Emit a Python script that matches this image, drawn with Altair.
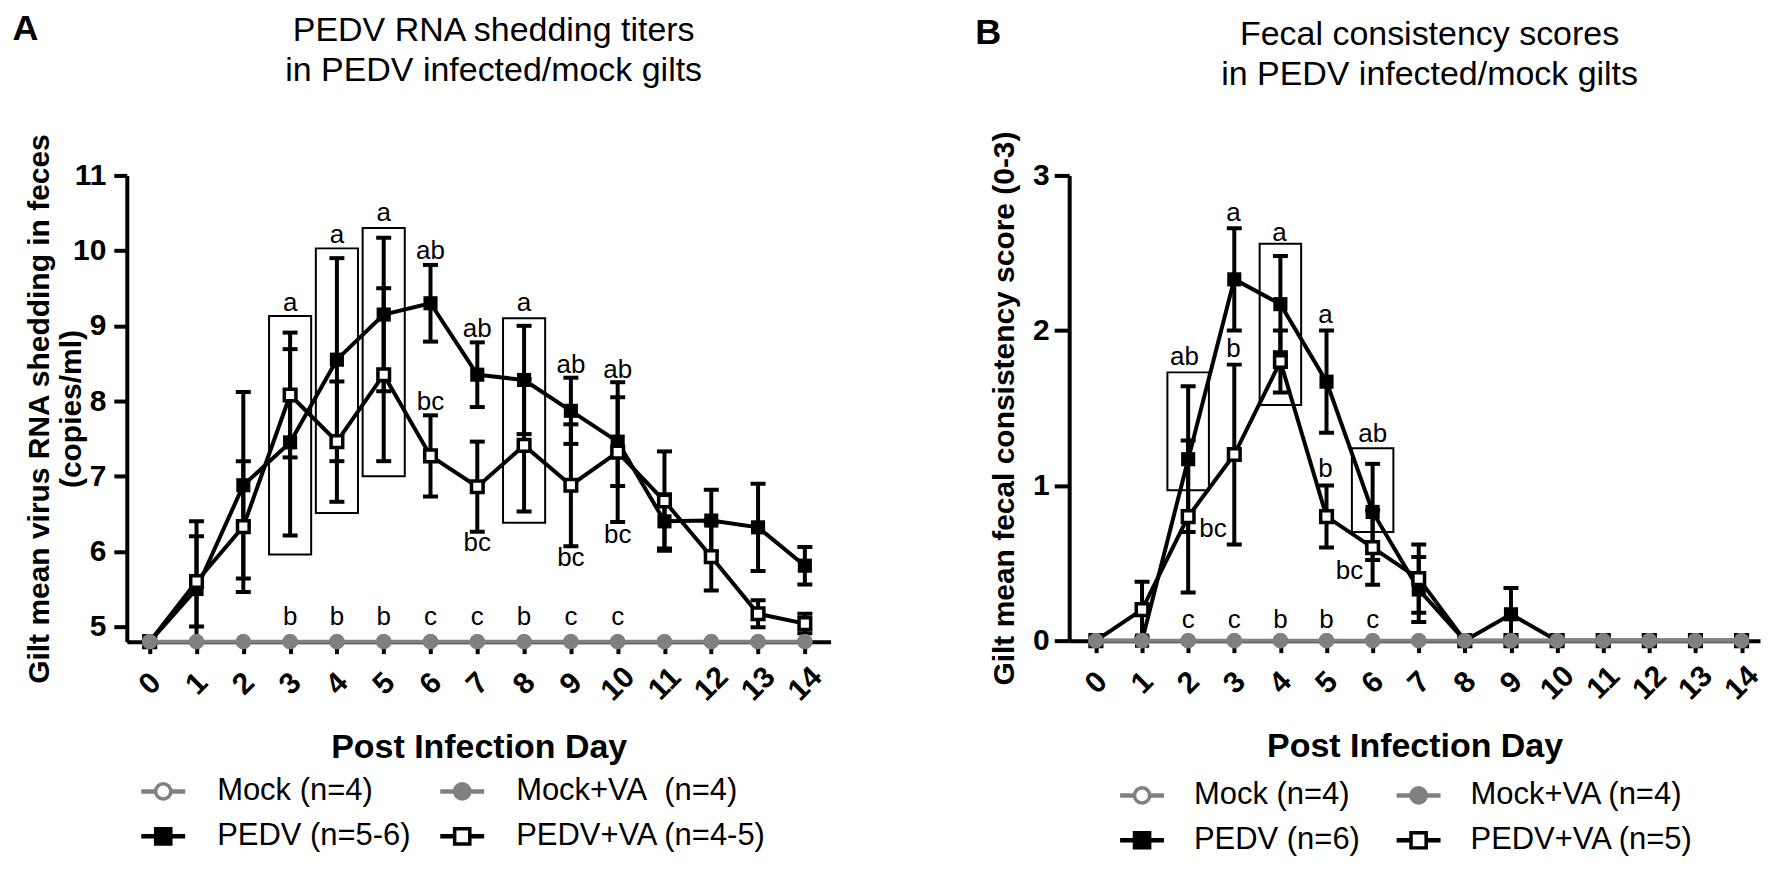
import altair as alt
import pandas as pd

FONT = "Liberation Sans"
GREY = "#808080"

days = list(range(15))

# ---------------- Panel A : RNA shedding ----------------
a_pedv = [4.8, 5.5, 6.88, 7.45, 8.55, 9.15, 9.3, 8.35, 8.28, 7.87, 7.46, 6.4, 6.41, 6.32, 5.81]
a_pedv_err = [0, 0.9, 1.24, 1.24, 1.35, 1.02, 0.51, 0.43, 0.72, 0.44, 0.59, 0.36, 0.41, 0.58, 0.25]
a_va = [4.8, 5.6, 6.33, 8.08, 7.46, 8.35, 7.27, 6.86, 7.41, 6.88, 7.32, 6.67, 5.93, 5.17, 5.04]
a_va_err = [0, 0.6, 0.87, 0.83, 0.8, 1.15, 0.54, 0.6, 0.88, 0.81, 0.93, 0.66, 0.45, 0.18, 0.13]
a_mock = [4.8] * 15
a_box_days = [3, 4, 5, 8]
a_box_lo = [5.96, 6.51, 7.0, 6.38]
a_box_hi = [9.13, 10.03, 10.3, 9.1]
a_let_days = [3, 4, 5, 6, 7, 8, 9, 10, 6, 7, 9, 10, 3, 4, 5, 6, 7, 8, 9, 10]
a_let_y = [9.3, 10.21, 10.5, 10.0, 8.96, 9.3, 8.48, 8.41, 7.99, 6.11, 5.91, 6.22,
           5.13, 5.13, 5.13, 5.13, 5.13, 5.13, 5.13, 5.13]
a_let_txt = ["a", "a", "a", "ab", "ab", "a", "ab", "ab", "bc", "bc", "bc", "bc",
             "b", "b", "b", "c", "c", "b", "c", "c"]
a_title = ["PEDV RNA shedding titers", "in PEDV infected/mock gilts"]
a_ytitle = ["Gilt mean virus RNA shedding in feces", "(copies/ml)"]
a_legend = ["Mock (n=4)", "Mock+VA\u00a0 (n=4)", "PEDV (n=5-6)", "PEDV+VA (n=4-5)"]

# ---------------- Panel B : fecal consistency ----------------
b_pedv = [0, 0, 1.17, 2.33, 2.17, 1.67, 0.83, 0.33, 0, 0.17, 0, 0, 0, 0, 0]
b_pedv_err = [0, 0, 0.47, 0.33, 0.31, 0.33, 0.31, 0.21, 0, 0.17, 0, 0, 0, 0, 0]
b_va = [0, 0.2, 0.8, 1.2, 1.8, 0.8, 0.6, 0.4, 0, 0, 0, 0, 0, 0, 0]
b_va_err = [0, 0.18, 0.49, 0.58, 0.2, 0.2, 0.24, 0.22, 0, 0, 0, 0, 0, 0, 0]
b_mock = [0] * 15
b_box_days = [2, 4, 6]
b_box_lo = [0.97, 1.52, 0.7]
b_box_hi = [1.73, 2.56, 1.24]
b_let_days = [1.92, 2.54, 2.98, 2.98, 3.98, 4.98, 4.98, 6.0, 5.5, 2, 3, 4, 5, 6]
b_let_y = [1.83, 0.72, 2.76, 1.88, 2.63, 2.1, 1.11, 1.33, 0.45, 0.13, 0.13, 0.13, 0.13, 0.13]
b_let_txt = ["ab", "bc", "a", "b", "a", "a", "b", "ab", "bc", "c", "c", "b", "b", "c"]
b_title = ["Fecal consistency scores", "in PEDV infected/mock gilts"]
b_ytitle = "Gilt mean fecal consistency score (0-3)"
b_legend = ["Mock (n=4)", "Mock+VA (n=4)", "PEDV (n=6)", "PEDV+VA (n=5)"]

series = ["Mock", "Mock+VA", "PEDV", "PEDV+VA"]
leg_col = [0, 1, 0, 1]
leg_row = [0, 0, 1, 1]


def panel(letter, letter_xy, title, title_y, ytitle, ydom, yticks, xdom, width, height,
          pedv, pedv_err, va, va_err, mock, box_days, box_lo, box_hi,
          let_days, let_y, let_txt, legend_labels, leg_xrange, leg_yrange, leg_dx,
          ytick_size, ylabel_pad, ytitle_pad):
    xs = alt.Scale(domain=xdom, nice=False, zero=False)
    ys = alt.Scale(domain=ydom, nice=False, zero=False)

    xaxis = alt.Axis(values=days, format="d", labelAngle=315, labelAlign="center",
                     labelBaseline="middle", labelPadding=30, tickSize=12,
                     title="Post Infection Day", titlePadding=25, titleFontSize=34)
    yaxis = alt.Axis(values=yticks, format="d", tickSize=ytick_size,
                     labelPadding=ylabel_pad, title=ytitle, titlePadding=ytitle_pad,
                     titleLineHeight=32)

    pe = pd.DataFrame({"day": days, "mean": pedv, "err": pedv_err})
    ve = pd.DataFrame({"day": days, "mean": va, "err": va_err})
    me = pd.DataFrame({"day": days, "mean": mock})

    err = pd.concat([pe, ve])
    err = err[err["err"] > 0].copy()
    err["lo"] = err["mean"] - err["err"]
    err["hi"] = err["mean"] + err["err"]
    caps = pd.concat([err[["day", "lo"]].rename(columns={"lo": "cap"}),
                      err[["day", "hi"]].rename(columns={"hi": "cap"})])

    bx = pd.DataFrame({"day": box_days, "lo": box_lo, "hi": box_hi})
    bx["x1"] = bx["day"] - 0.45
    bx["x2"] = bx["day"] + 0.45

    lt = pd.DataFrame({"day": let_days, "y": let_y, "txt": let_txt})

    X = alt.X("day:Q", scale=xs, axis=xaxis)
    Y = alt.Y("mean:Q", scale=ys, axis=yaxis)

    boxes = alt.Chart(bx).mark_rect(fill="white", fillOpacity=0, stroke="black",
                                     strokeWidth=2).encode(
        x=alt.X("x1:Q", scale=xs), x2="x2:Q",
        y=alt.Y("lo:Q", scale=ys), y2="hi:Q")
    rules = alt.Chart(err).mark_rule(color="black", strokeWidth=4, clip=True).encode(
        x=alt.X("day:Q", scale=xs), y=alt.Y("lo:Q", scale=ys), y2="hi:Q")
    capm = alt.Chart(caps).mark_tick(color="black", orient="horizontal", size=15,
                                     thickness=4, clip=True, opacity=1).encode(
        x=alt.X("day:Q", scale=xs), y=alt.Y("cap:Q", scale=ys))
    pl = alt.Chart(pe).mark_line(color="black", strokeWidth=4).encode(x=X, y=Y)
    vl = alt.Chart(ve).mark_line(color="black", strokeWidth=4).encode(x=X, y=Y)
    pp = alt.Chart(pe).mark_point(shape="square", filled=True, color="black",
                                  size=200, opacity=1).encode(x=X, y=Y)
    vp = alt.Chart(ve).mark_point(shape="square", filled=True, fill="white",
                                  stroke="black", strokeWidth=3.5, size=135,
                                  opacity=1).encode(x=X, y=Y)
    txt = alt.Chart(lt).mark_text(font=FONT, fontSize=26, color="black",
                                  baseline="middle", align="center").encode(
        x=alt.X("day:Q", scale=xs), y=alt.Y("y:Q", scale=ys), text="txt:N")
    ml = alt.Chart(me).mark_line(color=GREY, strokeWidth=4).encode(x=X, y=Y)
    mo = alt.Chart(me).mark_point(shape="circle", filled=True, fill="white",
                                  stroke=GREY, strokeWidth=3, size=150,
                                  opacity=1).encode(x=X, y=Y)
    mf = alt.Chart(me).mark_point(shape="circle", filled=True, color=GREY,
                                  size=240, opacity=1).encode(x=X, y=Y)
    one = pd.DataFrame({"t": [letter]})
    lab = alt.Chart(one).mark_text(
        font=FONT, fontSize=36, fontWeight="bold", color="black",
        align="left", baseline="top").encode(
        x=alt.value(letter_xy[0]), y=alt.value(letter_xy[1]), text="t:N")
    ttl = alt.Chart(one).mark_text(
        font=FONT, fontSize=34, color="black", align="center", baseline="top",
        lineHeight=40).encode(
        x=alt.value(width / 2 + 15), y=alt.value(title_y), text=alt.value(title))

    inner = alt.layer(boxes, rules, capm, pl, vl, pp, vp, txt, ml, mo, mf, lab, ttl)

    # legend drawn as a small chart of its own
    lg = pd.DataFrame({"series": series, "label": legend_labels,
                       "col": leg_col, "row": leg_row})
    LX = alt.X("col:Q", scale=alt.Scale(domain=[0, 1], range=leg_xrange), axis=None)
    LY = alt.Y("row:Q", scale=alt.Scale(domain=[0, 1], range=leg_yrange), axis=None)
    lrule = alt.Chart(lg).mark_rule(strokeWidth=4.5, xOffset=-22, x2Offset=22).encode(
        x=LX, x2="col:Q", y=LY,
        color=alt.Color("series:N", scale=alt.Scale(domain=series,
                        range=[GREY, GREY, "black", "black"]), legend=None))
    lpt = alt.Chart(lg).mark_point(size=230, strokeWidth=3.5, opacity=1,
                                   filled=True).encode(
        x=LX, y=LY,
        shape=alt.Shape("series:N", scale=alt.Scale(domain=series,
                        range=["circle", "circle", "square", "square"]), legend=None),
        fill=alt.Fill("series:N", scale=alt.Scale(domain=series,
                      range=["white", GREY, "black", "white"]), legend=None),
        stroke=alt.Stroke("series:N", scale=alt.Scale(domain=series,
                          range=[GREY, GREY, "black", "black"]), legend=None))
    ltx = alt.Chart(lg).mark_text(font=FONT, fontSize=31, color="black", align="left",
                                  baseline="middle", dx=leg_dx).encode(
        x=LX, y=LY, text="label:N")
    legend = alt.layer(lrule, lpt, ltx)

    return alt.layer(inner, legend).resolve_scale(
        x="independent", y="independent", color="independent",
        fill="independent", stroke="independent", shape="independent"
    ).properties(width=width, height=height)


A = panel("A", (-114.5, -164), a_title, -162, a_ytitle,
          [4.8, 11], [5, 6, 7, 8, 9, 10, 11], [-0.49, 14.55], 705, 467,
          a_pedv, a_pedv_err, a_va, a_va_err, a_mock,
          a_box_days, a_box_lo, a_box_hi, a_let_days, a_let_y, a_let_txt,
          a_legend, [36.5, 336], [467 + 150, 467 + 195], 54, 13, 8, -14)

B = panel("B", (-94, -160), b_title, -158, b_ytitle,
          [0, 3], [0, 1, 2, 3], [-0.58, 14.4], 692, 466,
          b_pedv, b_pedv_err, b_va, b_va_err, b_mock,
          b_box_days, b_box_lo, b_box_hi, b_let_days, b_let_y, b_let_txt,
          b_legend, [73, 350], [466 + 155, 466 + 200], 52, 15, 5, 13)

chart = alt.hconcat(A, B, spacing=145).properties(
    padding={"left": 4, "top": 2, "right": 0, "bottom": 0}
).configure_view(stroke=None).configure_axis(
    grid=False, domainColor="black", domainWidth=4, tickColor="black", tickWidth=4,
    labelFont=FONT, labelFontSize=30, labelFontWeight="bold", labelColor="black",
    titleFont=FONT, titleFontSize=30, titleFontWeight="bold", titleColor="black"
)

chart.save("out.html", embed_options={"renderer": "svg", "actions": False})
